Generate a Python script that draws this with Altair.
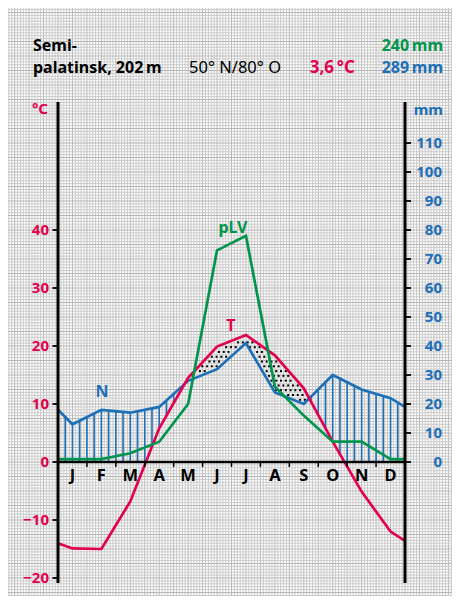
import altair as alt
import numpy as np
import pandas as pd

# ---------------- data ----------------
months = ["J", "F", "M", "A", "M", "J", "J", "A", "S", "O", "N", "D"]
temp_c = [-14.9, -15.0, -6.8, 5.8, 14.5, 19.9, 21.9, 18.4, 12.7, 3.5, -5.1, -12.0]
temp_edges = [-14.0, -13.6]
precip_mm = [13, 18, 17, 19, 28, 32, 41, 24, 20, 30, 25, 22]
precip_edges = [18, 19]
plv_mm = [1, 1, 3, 7, 20, 73, 78, 26, 16, 7, 7, 1]
plv_edges = [1, 1]
temp_ticks = [-20, -10, 0, 10, 20, 30, 40]
mm_ticks = [0, 10, 20, 30, 40, 50, 60, 70, 80, 90, 100, 110]

RED = "#e3004f"
GREEN = "#00954a"
BLUE = "#1d6fb8"
FONT = "Noto Sans"

# ---------------- geometry ----------------
W, H = 444, 588
X0, DX = 50.0, 347.0 / 12
Y0, DY = 454.0, 2.9
xdom = [-X0 / DX, (W - X0) / DX]
ydom = [(Y0 - H) / DY, Y0 / DY]
xs = alt.Scale(domain=xdom, nice=False, zero=False)
ys = alt.Scale(domain=ydom, nice=False, zero=False)

xpos = [0.0] + [i + 0.5 for i in range(12)] + [12.0]
T_full = [temp_edges[0]] + temp_c + [temp_edges[1]]
N_full = [precip_edges[0]] + precip_mm + [precip_edges[1]]
P_full = [plv_edges[0]] + plv_mm + [plv_edges[1]]
T2_full = [2 * t for t in T_full]

series = pd.DataFrame({
    "x": xpos * 3,
    "v": N_full + T2_full + P_full,
    "s": ["N"] * 14 + ["T"] * 14 + ["pLV"] * 14,
})

# background grid (mm paper)
gx = np.arange(int(np.ceil(xdom[0] * 10)), int(np.floor(xdom[1] * 10)) + 1)
gy = np.arange(int(np.ceil(ydom[0])), int(np.floor(ydom[1])) + 1)
gridx = pd.DataFrame({"x": gx / 10.0, "major": (gx % 5 == 0)})
gridy = pd.DataFrame({"y": gy.astype(float), "major": (gy % 5 == 0)})

# humid hatching
xh = np.arange(1, 48) * 0.25
Ni = np.interp(xh, xpos, N_full)
Ti = np.interp(xh, xpos, T2_full)
m = Ni > Ti
hatch = pd.DataFrame({"x": xh[m], "y": np.maximum(Ti[m], 0), "y2": Ni[m]})

# arid dots
dots = []
sx, sy = 0.165, 1.65
row = 0
for yy in np.arange(0, 60, sy):
    off = (row % 2) * sx / 2
    for xx in np.arange(4.0 + off, 9.0, sx):
        n = np.interp(xx, xpos, N_full)
        t = np.interp(xx, xpos, T2_full)
        if t > n and n + 0.9 < yy < t - 0.9:
            dots.append((xx, yy))
    row += 1
dots = pd.DataFrame(dots, columns=["x", "y"])

# axes
axes_v = pd.DataFrame({"x": [0.0, 12.0], "y": [-41.7, -41.7], "y2": [124.1, 124.1]})
zero_line = pd.DataFrame({"x": [0.0], "x2": [12.0], "y": [0.0]})
lt = pd.DataFrame({"y": [2.0 * t for t in temp_ticks], "x": [0.0] * 7,
                   "x2": [-5.5 / DX] * 7, "lab": [str(t).replace("-", "\u2212") for t in temp_ticks]})
rt = pd.DataFrame({"y": [float(v) for v in mm_ticks], "x": [12.0] * 12,
                   "x2": [12.0 + 6 / DX] * 12, "lab": [str(v) for v in mm_ticks]})
mt = pd.DataFrame({"x": [float(i) for i in range(1, 12)], "y": [0.0] * 11, "y2": [-5 / DY] * 11})
ml = pd.DataFrame({"x": [i + 0.5 for i in range(12)], "y": [0.0] * 12, "lab": months})

X = lambda f: alt.X(f, type="quantitative", scale=xs, axis=None)
Y = lambda f: alt.Y(f, type="quantitative", scale=ys, axis=None)

layers = []
layers.append(alt.Chart(gridx).mark_rule(strokeWidth=1).encode(
    x=X("x"),
    color=alt.condition("datum.major", alt.value("#b6b6b6"), alt.value("#cacaca"))))
layers.append(alt.Chart(gridy).mark_rule(strokeWidth=1).encode(
    y=Y("y"),
    color=alt.condition("datum.major", alt.value("#b6b6b6"), alt.value("#cacaca"))))
layers.append(alt.Chart(hatch).mark_rule(color=BLUE, strokeWidth=1.6).encode(
    x=X("x"), y=Y("y"), y2="y2"))
layers.append(alt.Chart(dots).mark_square(color="black", size=4, opacity=1).encode(
    x=X("x"), y=Y("y")))
for name, col in [("N", BLUE), ("T", RED), ("pLV", GREEN)]:
    layers.append(alt.Chart(series[series.s == name]).mark_line(
        color=col, strokeWidth=2.7, strokeJoin="miter").encode(x=X("x"), y=Y("v")))

# axes lines and ticks
layers.append(alt.Chart(axes_v).mark_rule(color="black", strokeWidth=3).encode(
    x=X("x"), y=Y("y"), y2="y2"))
layers.append(alt.Chart(zero_line).mark_rule(color="black", strokeWidth=2.6).encode(
    x=X("x"), x2="x2", y=Y("y")))
layers.append(alt.Chart(lt).mark_rule(color="black", strokeWidth=1.8).encode(
    x=X("x"), x2="x2", y=Y("y")))
layers.append(alt.Chart(rt).mark_rule(color="black", strokeWidth=1.8).encode(
    x=X("x"), x2="x2", y=Y("y")))
layers.append(alt.Chart(mt).mark_rule(color="black", strokeWidth=1.5).encode(
    x=X("x"), y=Y("y"), y2="y2"))
layers.append(alt.Chart(lt).mark_text(align="right", baseline="middle", dx=-9, dy=0,
    font=FONT, fontSize=15, fontWeight="bold", color=RED).encode(
    x=X("x"), y=Y("y"), text="lab:N"))
layers.append(alt.Chart(rt).mark_text(align="right", baseline="middle", dx=37, dy=0,
    font=FONT, fontSize=15, fontWeight="bold", color=BLUE).encode(
    x=X("x"), y=Y("y"), text="lab:N"))
layers.append(alt.Chart(ml).mark_text(align="center", baseline="alphabetic", dy=19,
    font=FONT, fontSize=16.5, fontWeight="bold", color="black").encode(
    x=X("x"), y=Y("y"), text="lab:N"))

# series labels
sl = pd.DataFrame({"x": [1.52, 6.05, 5.98], "y": [24.1, 80.7, 46.9],
                   "lab": ["N", "pLV", "T"], "c": [BLUE, GREEN, RED]})
layers.append(alt.Chart(sl).mark_text(align="center", baseline="middle",
    font=FONT, fontSize=16, fontWeight="bold").encode(
    x=X("x"), y=Y("y"), text="lab:N", color=alt.Color("c:N", scale=None)))

# header & axis titles
one = pd.DataFrame({"a": [0]})
def label(txt, x, y, align="left", color="black", weight="bold", size=16, baseline="alphabetic"):
    return alt.Chart(one).mark_text(text=txt, x=x, y=y, align=align, baseline=baseline,
                                    font=FONT, fontSize=size, fontWeight=weight, color=color)

layers += [
    label("Semi-", 25, 43),
    label("palatinsk, 202\u2009m", 25, 65),
    label("50° N/80° O", 181, 65, weight="normal", size=16.5),
    label("3,6\u2009°C", 347, 65, align="right", color=RED, size=17),
    label("240\u2009mm", 435, 43, align="right", color=GREEN),
    label("289\u2009mm", 435, 65, align="right", color=BLUE),
    label("°C", 40, 101, align="right", color=RED, size=15, baseline="middle"),
    label("mm", 435, 102, align="right", color=BLUE, size=15, baseline="middle"),
]

chart = alt.layer(*layers).properties(width=W, height=H).configure_view(
    fill="#ececec", stroke=None).properties(
    autosize=alt.AutoSizeParams(type="none"), padding=0)

chart.save("out.html", embed_options={"renderer": "svg", "actions": False})
